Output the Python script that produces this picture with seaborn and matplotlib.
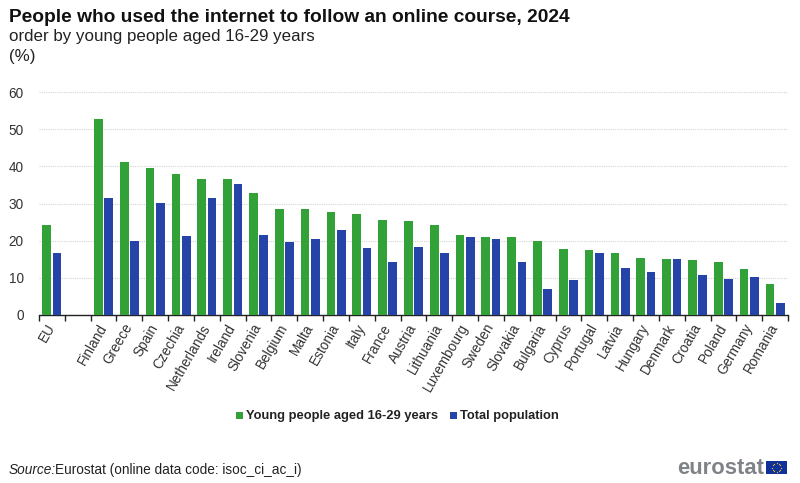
import numpy as np
import pandas as pd
import matplotlib
matplotlib.use("Agg")
import matplotlib.pyplot as plt
from matplotlib.patches import Rectangle
from matplotlib.ticker import FixedLocator
import seaborn as sns

# =====================================================
# DATA
# =====================================================

countries = [
    "EU", "", "Finland", "Greece", "Spain", "Czechia", "Netherlands", "Ireland",
    "Slovenia", "Belgium", "Malta", "Estonia", "Italy", "France", "Austria",
    "Lithuania", "Luxembourg", "Sweden", "Slovakia", "Bulgaria", "Cyprus",
    "Portugal", "Latvia", "Hungary", "Denmark", "Croatia", "Poland", "Germany",
    "Romania",
]

young = [
    24.2, np.nan, 52.8, 41.1, 39.5, 38.0, 36.7, 36.5, 32.8, 28.6, 28.4, 27.6,
    27.3, 25.5, 25.2, 24.1, 21.4, 21.1, 20.9, 20.0, 17.8, 17.6, 16.6, 15.3,
    15.2, 14.9, 14.2, 12.5, 8.3,
]

total = [
    16.6, np.nan, 31.6, 19.8, 30.2, 21.3, 31.4, 35.3, 21.5, 19.6, 20.5, 23.0,
    18.0, 14.2, 18.2, 16.8, 20.9, 20.4, 14.3, 6.9, 9.4, 16.8, 12.7, 11.5,
    15.0, 10.8, 9.8, 10.1, 3.1,
]

y_ticks = [0, 10, 20, 30, 40, 50, 60]

young_label = "Young people aged 16-29 years"
total_label = "Total population"

df = pd.DataFrame({"country": countries, young_label: young, total_label: total})
df = df.melt(id_vars="country", var_name="group", value_name="value")

# =====================================================
# PLOT
# =====================================================

W, H = 800, 483

sns.set_style("white")
plt.rcParams["font.family"] = ["Liberation Sans", "DejaVu Sans"]

fig = plt.figure(figsize=(W / 100, H / 100), dpi=100)
ax = fig.add_axes([39 / W, 1 - 315 / H, (788 - 39) / W, (315 - 92) / H])

sns.barplot(
    data=df,
    x="country",
    y="value",
    hue="group",
    order=countries,
    hue_order=[young_label, total_label],
    palette=["#32a238", "#2644a7"],
    saturation=1,
    width=0.8,
    gap=0.16,
    linewidth=0,
    errorbar=None,
    legend=False,
    zorder=3,
    ax=ax,
)

ax.set_xlim(-0.5, len(countries) - 0.5)
ax.set_ylim(0, 60)
ax.set_xlabel("")
ax.set_ylabel("")

# y axis
ax.set_yticks(y_ticks)
ax.tick_params(axis="y", length=0, pad=11, labelsize=9.8, labelcolor="#333333")
ax.grid(axis="y", color="#d4d4d4", linewidth=0.8, linestyle=(0, (1, 1)), zorder=0)
ax.grid(axis="x", visible=False)
for side in ["top", "left", "right"]:
    ax.spines[side].set_visible(False)
ax.spines["bottom"].set_color("#222222")
ax.spines["bottom"].set_linewidth(1.0)

# x axis: labels in the centre of each band, tick marks on the band edges
ax.set_xticks(range(len(countries)))
ax.set_xticklabels(
    countries, rotation=60, ha="right", va="center",
    rotation_mode="anchor", fontsize=9.8, color="#333333",
)
ax.tick_params(axis="x", which="major", length=0, pad=7)
ax.xaxis.set_minor_locator(FixedLocator(np.arange(len(countries) + 1) - 0.5))
ax.tick_params(axis="x", which="minor", length=4, width=1, color="#222222", bottom=True)

# =====================================================
# TITLES, LEGEND, FOOTER
# =====================================================


def px_text(x, y, s, **kw):
    fig.text(x / W, 1 - y / H, s, va="center", **kw)


px_text(9, 18, "People who used the internet to follow an online course, 2024",
        fontsize=13.8, fontweight="bold", color="#111111")
px_text(9, 37, "order by young people aged 16-29 years", fontsize=12.2, color="#222222")
px_text(9, 57, "(%)", fontsize=12.2, color="#222222")

for x0, color, label in [(236, "#32a238", young_label), (450, "#2644a7", total_label)]:
    fig.add_artist(Rectangle((x0 / W, 1 - 419 / H), 7 / W, 7 / H,
                             transform=fig.transFigure, color=color, lw=0))
    px_text(x0 + 10, 415.5, label, fontsize=9.3, fontweight="bold", color="#222222")

px_text(9, 470, "Source:", fontsize=9.8, style="italic", color="#222222")
px_text(55, 470, "Eurostat (online data code: isoc_ci_ac_i)", fontsize=9.8, color="#222222")

# eurostat logo
fig.text(764 / W, 1 - 468 / H, "eurostat", ha="right", va="center",
         fontsize=15.8, fontweight="bold", color="#7f8388")
fig.add_artist(Rectangle((766 / W, 1 - 474 / H), 21 / W, 13 / H,
                         transform=fig.transFigure, color="#10309a", lw=0))
angles = np.linspace(0, 2 * np.pi, 12, endpoint=False)
fig.add_artist(plt.Line2D(
    (776.5 + 4.4 * np.cos(angles)) / W,
    1 - (467.5 + 4.4 * np.sin(angles)) / H,
    transform=fig.transFigure, linestyle="none",
    marker="o", markersize=0.9, markeredgewidth=0, color="#e8c520",
))

fig.savefig("out.png", dpi=100)
plt.close(fig)
